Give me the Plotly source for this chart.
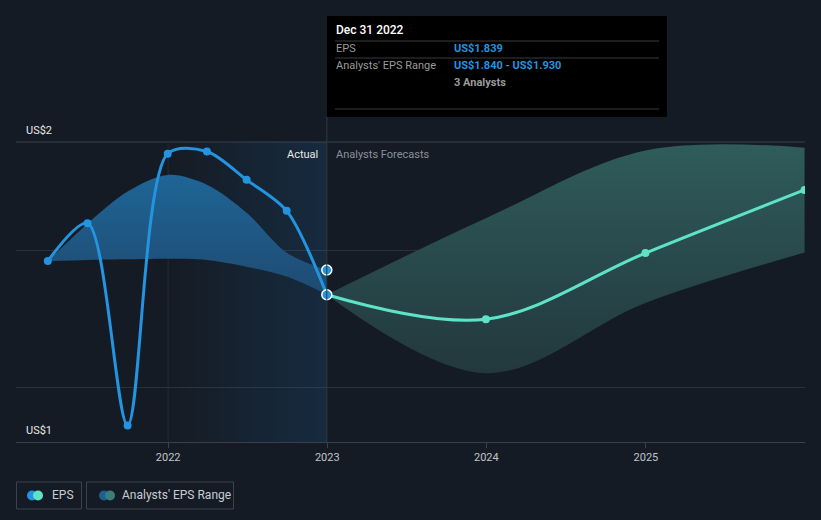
import plotly.graph_objects as go

# ---------------- data ----------------
past_dates = ["2021-03-31", "2021-06-30", "2021-09-30", "2021-12-31",
              "2022-03-31", "2022-06-30", "2022-09-30", "2022-12-31"]
past_eps = [1.963, 2.102, 1.359, 2.357, 2.365, 2.261, 2.147, 1.839]
past_range_low = [1.963, 1.967, 1.969, 1.971, 1.967, 1.942, 1.906, 1.840]
past_range_high = [1.963, 2.100, 2.218, 2.279, 2.243, 2.140, 1.993, 1.930]

fc_dates = ["2022-12-31", "2023-12-31", "2024-12-31", "2025-12-31"]
fc_eps = [1.839, 1.749, 1.992, 2.224]
fc_low = [1.839, 1.551, 1.809, 1.994]
fc_high = [1.839, 2.120, 2.369, 2.379]

today = "2022-12-31"
actual_start = "2022-01-01"
x_range = ["2021-01-17", "2026-01-01"]
y_range = [1.298, 2.40]
grid_vals = [1.5, 2.0]
x_tick_vals = ["2022-01-01", "2023-01-01", "2024-01-01", "2025-01-01"]
x_tick_text = ["2022", "2023", "2024", "2025"]
y_label_top = "US$2"
y_label_bottom = "US$1"

tip_title = "Dec 31 2022"
tip_eps = "US$1.839"
tip_range = "US$1.840 - US$1.930"
tip_analysts = "3 Analysts"

# ---------------- styling ----------------
BG = "#151b24"
BLUE = "#2394df"
TEAL = "#5ee3c9"
FONT = "Roboto"
W, H = 821, 520
L, R, T, B = 16, 805, 142, 442


def px(x):
    return (x - L) / (R - L)


def py(y):
    return (B - y) / (B - T)


fig = go.Figure()

# shaded "actual" region (horizontal gradient)
fig.add_trace(go.Scatter(
    x=[actual_start, today, today, actual_start, actual_start],
    y=[y_range[0], y_range[0], y_range[1], y_range[1], y_range[0]],
    mode="lines", line=dict(width=0), fill="toself",
    fillgradient=dict(type="horizontal",
                      colorscale=[[0, "rgba(33,150,243,0.0)"], [1, "rgba(33,150,243,0.13)"]]),
    hoverinfo="skip", showlegend=False))

# past range band
fig.add_trace(go.Scatter(x=past_dates, y=past_range_low, mode="lines",
                         line=dict(width=0, shape="spline", smoothing=0.9),
                         hoverinfo="skip", showlegend=False))
fig.add_trace(go.Scatter(
    x=past_dates, y=past_range_high, mode="lines",
    line=dict(width=0, shape="spline", smoothing=0.9), fill="tonexty",
    fillgradient=dict(type="vertical", start=1.8, stop=2.3,
                      colorscale=[[0, "rgba(31,72,110,1)"], [1, "rgba(30,102,152,1)"]]),
    hoverinfo="skip", showlegend=False))

# forecast range band
fig.add_trace(go.Scatter(x=fc_dates, y=fc_low, mode="lines",
                         line=dict(width=0, shape="spline"), hoverinfo="skip", showlegend=False))
fig.add_trace(go.Scatter(
    x=fc_dates, y=fc_high, mode="lines",
    line=dict(width=0, shape="spline"), fill="tonexty",
    fillgradient=dict(type="vertical", start=1.55, stop=2.38,
                      colorscale=[[0, "rgba(34,56,61,1)"], [1, "rgba(47,91,91,1)"]]),
    hoverinfo="skip", showlegend=False))

# EPS lines
fig.add_trace(go.Scatter(x=past_dates, y=past_eps, mode="lines+markers",
                         line=dict(color=BLUE, width=3, shape="spline", smoothing=0.85),
                         marker=dict(color=BLUE, size=8), hoverinfo="skip", showlegend=False))
fig.add_trace(go.Scatter(x=fc_dates, y=fc_eps, mode="lines+markers",
                         line=dict(color=TEAL, width=3, shape="spline"),
                         marker=dict(color=TEAL, size=8), hoverinfo="skip", showlegend=False))

# highlighted points at today
fig.add_trace(go.Scatter(x=[today, today], y=[past_range_high[-1], past_eps[-1]], mode="markers",
                         marker=dict(color=BLUE, size=10, line=dict(color="white", width=1.5)),
                         hoverinfo="skip", showlegend=False))

shapes = []
annotations = []

# top border line of plot
shapes.append(dict(type="line", xref="paper", yref="paper", x0=0, x1=1, y0=1, y1=1,
                   line=dict(color="#3a414a", width=1), layer="below"))

# today vertical line and 2022 faint line
shapes.append(dict(type="line", xref="x", yref="paper", x0=today, x1=today,
                   y0=0, y1=py(117), line=dict(color="#2c3a48", width=1), layer="above"))
shapes.append(dict(type="line", xref="x", yref="paper", x0=actual_start, x1=actual_start,
                   y0=0, y1=1, line=dict(color="#1d2d3c", width=1), layer="below"))

# tooltip box
shapes.append(dict(type="rect", xref="paper", yref="paper", x0=px(327), x1=px(667),
                   y0=py(117), y1=py(16), fillcolor="#000000", line=dict(width=0), layer="above"))
for yy in (41, 58, 109):
    shapes.append(dict(type="line", xref="paper", yref="paper", x0=px(335), x1=px(659),
                       y0=py(yy), y1=py(yy), line=dict(color="#3a3a3a", width=1), layer="above"))


def txt(text, x, y, color, size=11, anchor="left", weight="normal"):
    annotations.append(dict(text=text, xref="paper", yref="paper", x=px(x), y=py(y),
                            xanchor=anchor, yanchor="middle", showarrow=False,
                            font=dict(family=FONT, size=size, color=color, weight=weight)))


txt(tip_title, 334, 30, "#ffffff", 12, weight=500)
txt("EPS", 334, 49, "#9a9a9a")
txt(tip_eps, 452, 49, BLUE, weight="bold")
txt("Analysts' EPS Range", 334, 66, "#9a9a9a")
txt(tip_range, 452, 66, BLUE, weight="bold")
txt(tip_analysts, 452, 83, "#9a9a9a", weight="bold")

txt("Actual", 320, 154, "#e8e8e8", anchor="right")
txt("Analysts Forecasts", 334, 154, "#8a9099")
txt(y_label_top, 24, 130, "#e8e8e8")
txt(y_label_bottom, 24, 430, "#e8e8e8")

# legend
shapes.append(dict(type="rect", xref="paper", yref="paper", x0=px(16.5), x1=px(81.5),
                   y0=py(509), y1=py(482), line=dict(color="#3b424c", width=1), layer="above"))
shapes.append(dict(type="rect", xref="paper", yref="paper", x0=px(86.5), x1=px(233.5),
                   y0=py(509), y1=py(482), line=dict(color="#3b424c", width=1), layer="above"))
for cx, col in ((32, BLUE), (38, TEAL), (104, "#1f5f8f"), (110, "#3b7d79")):
    shapes.append(dict(type="circle", xref="paper", yref="paper", xsizemode="pixel",
                       ysizemode="pixel", xanchor=px(cx), yanchor=py(495.5),
                       x0=-5, x1=5, y0=-5, y1=5, fillcolor=col, line=dict(width=0), layer="above"))
txt("EPS", 50, 495.5, "#c8ccd2", 12)
txt("Analysts' EPS Range", 120, 495.5, "#c8ccd2", 12)

fig.update_layout(
    width=W, height=H,
    margin=dict(l=L, r=W - R, t=T, b=H - B),
    paper_bgcolor=BG, plot_bgcolor=BG,
    showlegend=False, hovermode=False,
    shapes=shapes, annotations=annotations,
    font=dict(family=FONT, color="#c0c4ca"),
    xaxis=dict(type="date", range=x_range, tickvals=x_tick_vals, ticktext=x_tick_text,
               showgrid=False, zeroline=False, showline=True, linecolor="#3a414a",
               ticks="outside", ticklen=5, tickcolor="#3a414a",
               tickfont=dict(family=FONT, size=11, color="#c0c4ca")),
    yaxis=dict(range=y_range, tickvals=grid_vals, showticklabels=False,
               showgrid=True, gridcolor="#2a313a", gridwidth=1, zeroline=False,
               showline=False, fixedrange=True),
)

fig.write_html("out.html", config={"displayModeBar": False},
               post_script="document.body.style.margin='0';document.body.style.background='" + BG + "';")
